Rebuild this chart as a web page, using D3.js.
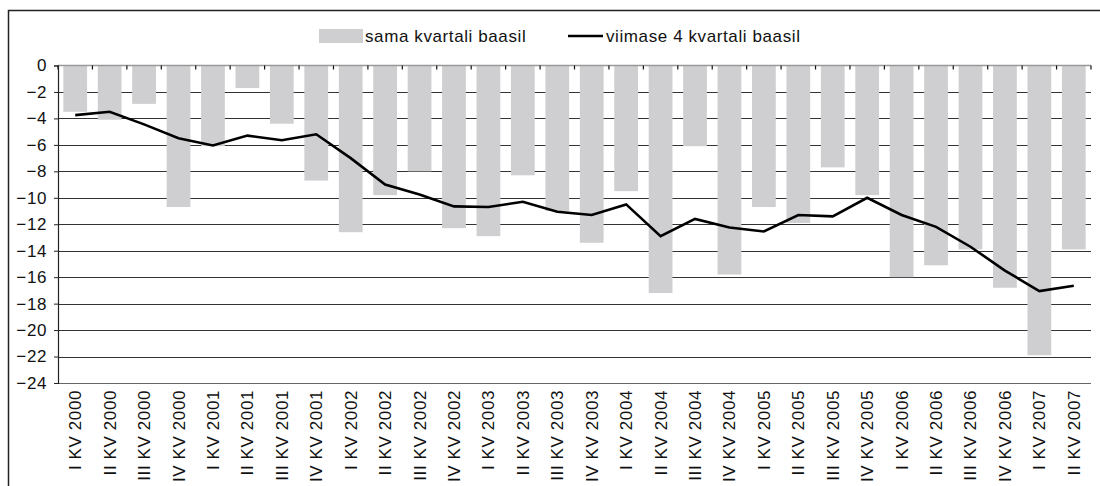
<!DOCTYPE html>
<html>
<head>
<meta charset="utf-8">
<script src="https://cdn.jsdelivr.net/npm/d3@7"></script>
<style>
    body { margin: 0; background: #fff; }
    text { font-family: "Liberation Sans", Arial, sans-serif; }
</style>
</head>
<body>
<div id="chart"></div>
<script>
// quarters on the x axis
const quarters = [
    "I KV 2000", "II KV 2000", "III KV 2000", "IV KV 2000",
    "I KV 2001", "II KV 2001", "III KV 2001", "IV KV 2001",
    "I KV 2002", "II KV 2002", "III KV 2002", "IV KV 2002",
    "I KV 2003", "II KV 2003", "III KV 2003", "IV KV 2003",
    "I KV 2004", "II KV 2004", "III KV 2004", "IV KV 2004",
    "I KV 2005", "II KV 2005", "III KV 2005", "IV KV 2005",
    "I KV 2006", "II KV 2006", "III KV 2006", "IV KV 2006",
    "I KV 2007", "II KV 2007"
];

// bars: sama kvartali baasil
const sameQuarter = [
    -3.5, -4.1, -2.9, -10.7, -6.1, -1.7, -4.4, -8.7,
    -12.6, -9.8, -8.0, -12.3, -12.9, -8.3, -11.0, -13.4,
    -9.5, -17.2, -6.1, -15.8, -10.7, -11.9, -7.7, -9.8,
    -16.0, -15.1, -13.9, -16.8, -21.9, -13.9
];

// line: viimase 4 kvartali baasil
const lastFour = [
    -3.75, -3.5, -4.45, -5.5, -6.05, -5.3, -5.65, -5.2,
    -7.0, -9.0, -9.75, -10.65, -10.7, -10.3, -11.05, -11.3,
    -10.5, -12.9, -11.6, -12.25, -12.55, -11.3, -11.4, -10.0,
    -11.3, -12.2, -13.7, -15.5, -17.05, -16.65
];

const yTicks = [0, -2, -4, -6, -8, -10, -12, -14, -16, -18, -20, -22, -24];
const legendLabels = ["sama kvartali baasil", "viimase 4 kvartali baasil"];

function drawChart() {
    // plot area
    const W = 1100, H = 486;
    const left = 58, right = 1091, top = 65.5, bottom = 383;
    const fontSize = "17px", spacing = "0.6px";

    const svg = d3.select("#chart")
        .append("svg")
        .attr("width", W)
        .attr("height", H);

    // scales
    const x = d3.scaleBand()
        .domain(quarters)
        .range([left, right])
        .paddingInner(0.31)
        .paddingOuter(0.155);

    const y = d3.scaleLinear()
        .domain([-24, 0])
        .range([bottom, top]);

    // outer frame (runs off the right and bottom edges)
    svg.append("path")
        .attr("d", "M8.5," + H + "V10.5H" + W)
        .attr("fill", "none")
        .attr("stroke", "#222")
        .attr("stroke-width", 1.5);

    // gridlines
    svg.append("g")
        .selectAll("line")
        .data(yTicks.filter(d => d !== 0))
        .join("line")
        .attr("x1", left)
        .attr("x2", right)
        .attr("y1", d => Math.round(y(d)) + 0.5)
        .attr("y2", d => Math.round(y(d)) + 0.5)
        .attr("stroke", d => d === -24 ? "#666" : "#333")
        .attr("stroke-width", 1.2);

    // bars
    svg.append("g")
        .selectAll("rect")
        .data(quarters)
        .join("rect")
        .attr("x", d => x(d))
        .attr("y", y(0))
        .attr("width", x.bandwidth())
        .attr("height", (d, i) => y(sameQuarter[i]) - y(0))
        .attr("fill", "#cfcfd1");

    // zero line with category ticks
    svg.append("line")
        .attr("x1", left)
        .attr("x2", right)
        .attr("y1", y(0))
        .attr("y2", y(0))
        .attr("stroke", "#999")
        .attr("stroke-width", 1.5);

    const step = x.step();
    svg.append("g")
        .selectAll("line")
        .data(d3.range(quarters.length + 1))
        .join("line")
        .attr("x1", i => left + i * step)
        .attr("x2", i => left + i * step)
        .attr("y1", y(0))
        .attr("y2", y(0) + 4)
        .attr("stroke", "#111")
        .attr("stroke-width", 1.2);

    // y axis
    const yAxis = svg.append("g")
        .attr("transform", "translate(" + left + ",0)")
        .call(d3.axisLeft(y).tickValues(yTicks).tickSize(4).tickPadding(7));
    yAxis.select(".domain").attr("stroke", "#222").attr("stroke-width", 1.2);
    yAxis.selectAll(".tick line").attr("stroke", "#222");
    yAxis.selectAll("text")
        .style("font-size", fontSize)
        .style("letter-spacing", spacing)
        .attr("fill", "#111");

    // line series
    const line = d3.line()
        .x((d, i) => x(quarters[i]) + x.bandwidth() / 2)
        .y(d => y(d));

    svg.append("path")
        .datum(lastFour)
        .attr("d", line)
        .attr("fill", "none")
        .attr("stroke", "#000")
        .attr("stroke-width", 2.6)
        .attr("stroke-linejoin", "miter");

    // x labels, rotated
    svg.append("g")
        .selectAll("text")
        .data(quarters)
        .join("text")
        .attr("transform", d => "translate(" + (x(d) + x.bandwidth() / 2 + 6) + ",390) rotate(-90)")
        .attr("text-anchor", "end")
        .style("font-size", fontSize)
        .style("letter-spacing", spacing)
        .attr("fill", "#111")
        .text(d => d);

    // legend
    const legend = svg.append("g");
    legend.append("rect")
        .attr("x", 319)
        .attr("y", 29)
        .attr("width", 44)
        .attr("height", 14)
        .attr("fill", "#cfcfd1");
    legend.append("text")
        .attr("x", 365)
        .attr("y", 42)
        .style("font-size", fontSize)
        .style("letter-spacing", spacing)
        .attr("fill", "#111")
        .text(legendLabels[0]);
    legend.append("line")
        .attr("x1", 568)
        .attr("x2", 603)
        .attr("y1", 36)
        .attr("y2", 36)
        .attr("stroke", "#000")
        .attr("stroke-width", 2.6);
    legend.append("text")
        .attr("x", 606)
        .attr("y", 42)
        .style("font-size", fontSize)
        .style("letter-spacing", spacing)
        .attr("fill", "#111")
        .text(legendLabels[1]);
}

drawChart();
</script>
</body>
</html>
